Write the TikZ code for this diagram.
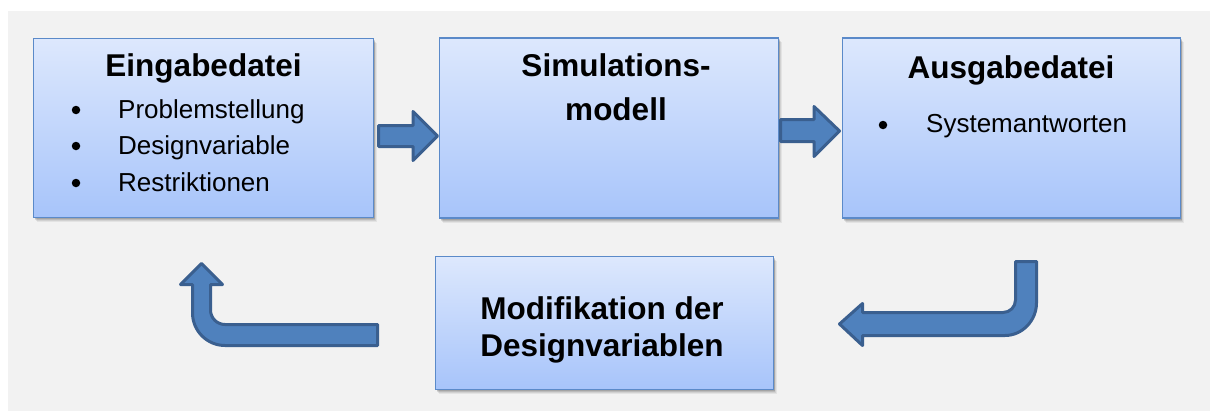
\documentclass[tikz,border=0pt]{standalone}
\usepackage{fontspec}
\setmainfont{Liberation Sans}
\usetikzlibrary{shadows}
\definecolor{bg}{HTML}{F2F2F2}
\definecolor{boxtop}{HTML}{DDE8FD}
\definecolor{boxbot}{HTML}{A7C4FA}
\definecolor{boxline}{HTML}{5B8AC9}
\definecolor{arrfill}{HTML}{4F81BD}
\definecolor{arrline}{HTML}{3A5F8F}
\begin{document}
\begin{tikzpicture}[x=1pt,y=-1pt,
  box/.style={draw=boxline, line width=1.5pt, top color=boxtop, bottom color=boxbot, inner sep=0pt,
    general shadow={shadow xshift=3pt, shadow yshift=-4.5pt, opacity=0.06, fill=black},
    general shadow={shadow xshift=2.5pt, shadow yshift=-3.5pt, opacity=0.08, fill=black},
    general shadow={shadow xshift=1.5pt, shadow yshift=-2.5pt, opacity=0.1, fill=black},
    general shadow={shadow xshift=1pt, shadow yshift=-1.5pt, opacity=0.12, fill=black}},
  ttl/.style={font=\fontsize{31.5}{36}\selectfont\bfseries, inner sep=0pt},
  txt/.style={font=\fontsize{26}{30}\selectfont, inner sep=0pt},
  dot/.style={circle, fill=black, inner sep=0pt, minimum size=8.5pt},
  blockarrow/.style={fill=arrfill, draw=arrline, line width=3pt, line join=round}]
\useasboundingbox (0,0) rectangle (1213,412);
\fill[white] (0,0) rectangle (1213,412);
\fill[bg] (8,11) rectangle (1210,411);

% boxes
\node[box, minimum width=340pt, minimum height=179pt] (b1) at (203.5,128) {};
\node[box, minimum width=339pt, minimum height=180pt] (b2) at (609,128) {};
\node[box, minimum width=338pt, minimum height=180pt] (b3) at (1011.5,128) {};
\node[box, minimum width=338pt, minimum height=133pt] (b4) at (604.5,323) {};

% box 1 text
\node[ttl, anchor=base] (t1) at (203.5,77) {Eingabedatei};
\node[dot] (d1a) at (76,110) {};
\node[txt, anchor=base west] (p1a) at (118,118) {Problemstellung};
\node[dot] (d1b) at (76,146) {};
\node[txt, anchor=base west] (p1b) at (118,154) {Designvariable};
\node[dot] (d1c) at (76,183) {};
\node[txt, anchor=base west] (p1c) at (118,191) {Restriktionen};

% box 2 text
\node[ttl, anchor=base] (t2a) at (616,77) {Simulations-};
\node[ttl, anchor=base] (t2b) at (616,121) {modell};

% box 3 text
\node[ttl, anchor=base] (t3) at (1011,78) {Ausgabedatei};
\node[dot] (d3) at (883,125) {};
\node[txt, anchor=base west] (p3) at (926,132) {Systemantworten};

% box 4 text
\node[ttl, anchor=base] (t4a) at (602,319) {Modifikation der};
\node[ttl, anchor=base] (t4b) at (602,356) {Designvariablen};

% straight block arrows
\draw[blockarrow] (378.5,125.5) -- (413,125.5) -- (413,111.5) -- (437.5,136)
  -- (413,160.5) -- (413,146.5) -- (378.5,146.5) -- cycle;
\draw[blockarrow] (780.5,119.5) -- (814,119.5) -- (814,106.5) -- (839.5,131)
  -- (814,156.5) -- (814,141.5) -- (780.5,141.5) -- cycle;

% bent arrow right (from Ausgabedatei down to Modifikation)
\draw[blockarrow] (1015.5,261.5) -- (1036.5,261.5) -- (1036.5,303)
  .. controls (1036.5,320.4) and (1022.4,335.5) .. (1005,335.5)
  -- (862.5,335.5) -- (862.5,345.5) -- (839.5,324) -- (862.5,303.5) -- (862.5,312.5)
  -- (1003,312.5) .. controls (1009.9,312.5) and (1015.5,306.9) .. (1015.5,300) -- cycle;

% bent arrow left (from Modifikation up to Eingabedatei)
\draw[blockarrow] (377.5,324.5) -- (225,324.5)
  .. controls (217,324.5) and (210.5,318) .. (210.5,310)
  -- (210.5,284.5) -- (222.5,284.5) -- (201.5,263.5) -- (180.5,284.5) -- (192.5,284.5)
  -- (192.5,313) .. controls (192.5,330.9) and (207.1,345.5) .. (225,345.5)
  -- (377.5,345.5) -- cycle;
\end{tikzpicture}
\end{document}
